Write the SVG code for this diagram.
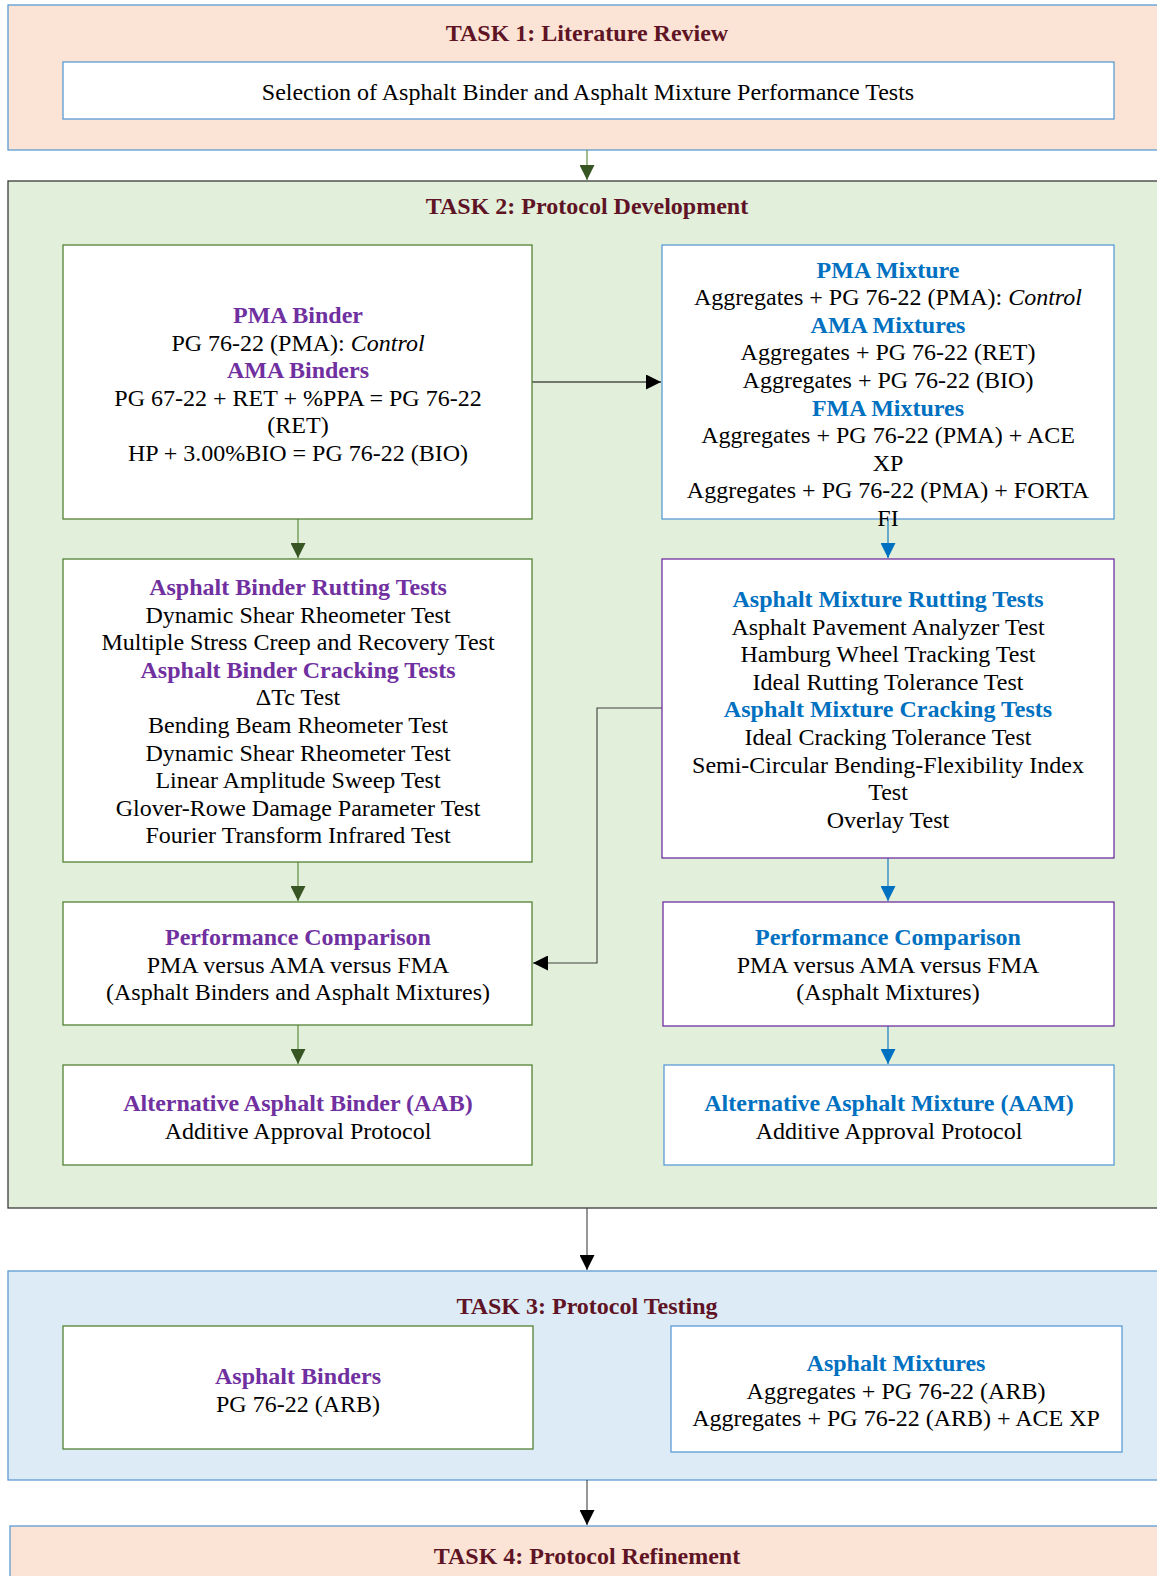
<svg xmlns="http://www.w3.org/2000/svg" width="1157" height="1576" viewBox="0 0 1157 1576">
<defs>
<style>
text{font-family:"Liberation Serif","Times New Roman",serif;font-size:24px;text-anchor:middle;fill:#000}
.t{font-weight:bold;fill:#5F1426}
.p{font-weight:bold;fill:#7030A0}
.b{font-weight:bold;fill:#0070C0}
.box{fill:#fff;stroke-width:1.3}
.g{stroke:#548235}
.bl{stroke:#5B9BD5}
.pu{stroke:#7030A0}
.c{fill:none;stroke-width:1.1}
</style>
<marker id="ag" markerUnits="userSpaceOnUse" markerWidth="15" markerHeight="15" viewBox="0 0 10 10" refX="10" refY="5" orient="auto"><path d="M0,0L10,5L0,10z" fill="#375623"/></marker>
<marker id="ab" markerUnits="userSpaceOnUse" markerWidth="15" markerHeight="15" viewBox="0 0 10 10" refX="10" refY="5" orient="auto"><path d="M0,0L10,5L0,10z" fill="#0070C0"/></marker>
<marker id="ak" markerUnits="userSpaceOnUse" markerWidth="15" markerHeight="15" viewBox="0 0 10 10" refX="10" refY="5" orient="auto"><path d="M0,0L10,5L0,10z" fill="#000"/></marker>
</defs>

<g id="task1">
<rect x="8" y="5" width="1170" height="145" fill="#FBE4D5" stroke="#5B9BD5" stroke-width="1.3"/>
<text class="t" x="587" y="41">TASK 1: Literature Review</text>
</g>
<g id="selection">
<rect class="box bl" x="63" y="62" width="1051" height="57"/>
<text x="588" y="100">Selection of Asphalt Binder and Asphalt Mixture Performance Tests</text>
</g>

<g id="task2">
<rect x="8" y="181" width="1170" height="1027" fill="#E2EFDA" stroke="#3A3A3A" stroke-width="1.3"/>
<text class="t" x="587" y="214">TASK 2: Protocol Development</text>
</g>

<g id="task3">
<rect x="8" y="1271" width="1170" height="209" fill="#DDEBF7" stroke="#5B9BD5" stroke-width="1.3"/>
<text class="t" x="587" y="1314">TASK 3: Protocol Testing</text>
</g>

<g id="task4">
<rect x="10" y="1526" width="1170" height="80" fill="#FBE4D5" stroke="#5B9BD5" stroke-width="1.3"/>
<text class="t" x="587" y="1564">TASK 4: Protocol Refinement</text>
</g>

<g id="connectors">
<path class="c" d="M587,150V180" stroke="#548235" marker-end="url(#ag)"/>
<path class="c" d="M532,382H661" stroke="#000" marker-end="url(#ak)"/>
<path class="c" d="M298,519V558" stroke="#548235" marker-end="url(#ag)"/>
<path class="c" d="M888,519V558" stroke="#0070C0" marker-end="url(#ab)"/>
<path class="c" d="M662,708H597V963H533" stroke="#404040" marker-end="url(#ak)"/>
<path class="c" d="M298,862V901" stroke="#548235" marker-end="url(#ag)"/>
<path class="c" d="M888,858V901" stroke="#0070C0" marker-end="url(#ab)"/>
<path class="c" d="M298,1025V1064" stroke="#548235" marker-end="url(#ag)"/>
<path class="c" d="M888,1026V1064" stroke="#0070C0" marker-end="url(#ab)"/>
<path class="c" d="M587,1208V1270" stroke="#404040" marker-end="url(#ak)"/>
<path class="c" d="M587,1480V1525" stroke="#404040" marker-end="url(#ak)"/>
</g>

<g id="pma-binder">
<rect class="box g" x="63" y="245" width="469" height="274"/>
<text class="p" x="298" y="323">PMA Binder</text>
<text x="298" y="350.6">PG 76-22 (PMA): <tspan font-style="italic">Control</tspan></text>
<text class="p" x="298" y="378.2">AMA Binders</text>
<text x="298" y="405.8">PG 67-22 + RET + %PPA = PG 76-22</text>
<text x="298" y="433.4">(RET)</text>
<text x="298" y="461">HP + 3.00%BIO = PG 76-22 (BIO)</text>
</g>

<g id="pma-mixture">
<rect class="box bl" x="662" y="245" width="452" height="274"/>
<text class="b" x="888" y="277.5">PMA Mixture</text>
<text x="888" y="305.1">Aggregates + PG 76-22 (PMA): <tspan font-style="italic">Control</tspan></text>
<text class="b" x="888" y="332.7">AMA Mixtures</text>
<text x="888" y="360.3">Aggregates + PG 76-22 (RET)</text>
<text x="888" y="387.9">Aggregates + PG 76-22 (BIO)</text>
<text class="b" x="888" y="415.5">FMA Mixtures</text>
<text x="888" y="443.1">Aggregates + PG 76-22 (PMA) + ACE</text>
<text x="888" y="470.7">XP</text>
<text x="888" y="498.3">Aggregates + PG 76-22 (PMA) + FORTA</text>
<text x="888" y="525.9">FI</text>
</g>

<g id="binder-tests">
<rect class="box g" x="63" y="559" width="469" height="303"/>
<text class="p" x="298" y="595">Asphalt Binder Rutting Tests</text>
<text x="298" y="622.6">Dynamic Shear Rheometer Test</text>
<text x="298" y="650.2">Multiple Stress Creep and Recovery Test</text>
<text class="p" x="298" y="677.8">Asphalt Binder Cracking Tests</text>
<text x="298" y="705.4">ΔTc Test</text>
<text x="298" y="733">Bending Beam Rheometer Test</text>
<text x="298" y="760.6">Dynamic Shear Rheometer Test</text>
<text x="298" y="788.2">Linear Amplitude Sweep Test</text>
<text x="298" y="815.8">Glover-Rowe Damage Parameter Test</text>
<text x="298" y="843.4">Fourier Transform Infrared Test</text>
</g>

<g id="mixture-tests">
<rect class="box pu" x="662" y="559" width="452" height="299"/>
<text class="b" x="888" y="607">Asphalt Mixture Rutting Tests</text>
<text x="888" y="634.6">Asphalt Pavement Analyzer Test</text>
<text x="888" y="662.2">Hamburg Wheel Tracking Test</text>
<text x="888" y="689.8">Ideal Rutting Tolerance Test</text>
<text class="b" x="888" y="717.4">Asphalt Mixture Cracking Tests</text>
<text x="888" y="745">Ideal Cracking Tolerance Test</text>
<text x="888" y="772.6">Semi-Circular Bending-Flexibility Index</text>
<text x="888" y="800.2">Test</text>
<text x="888" y="827.8">Overlay Test</text>
</g>

<g id="perf-binder">
<rect class="box g" x="63" y="902" width="469" height="123"/>
<text class="p" x="298" y="945">Performance Comparison</text>
<text x="298" y="972.6">PMA versus AMA versus FMA</text>
<text x="298" y="1000.2">(Asphalt Binders and Asphalt Mixtures)</text>
</g>

<g id="perf-mixture">
<rect class="box pu" x="663" y="902" width="451" height="124"/>
<text class="b" x="888" y="945">Performance Comparison</text>
<text x="888" y="972.6">PMA versus AMA versus FMA</text>
<text x="888" y="1000.2">(Asphalt Mixtures)</text>
</g>

<g id="aab">
<rect class="box g" x="63" y="1065" width="469" height="100"/>
<text class="p" x="298" y="1111">Alternative Asphalt Binder (AAB)</text>
<text x="298" y="1138.6">Additive Approval Protocol</text>
</g>

<g id="aam">
<rect class="box bl" x="664" y="1065" width="450" height="100"/>
<text class="b" x="889" y="1111">Alternative Asphalt Mixture (AAM)</text>
<text x="889" y="1138.6">Additive Approval Protocol</text>
</g>

<g id="asphalt-binders">
<rect class="box g" x="63" y="1326" width="470" height="123"/>
<text class="p" x="298" y="1384">Asphalt Binders</text>
<text x="298" y="1411.6">PG 76-22 (ARB)</text>
</g>

<g id="asphalt-mixtures">
<rect class="box bl" x="671" y="1326" width="451" height="126"/>
<text class="b" x="896" y="1371">Asphalt Mixtures</text>
<text x="896" y="1398.6">Aggregates + PG 76-22 (ARB)</text>
<text x="896" y="1426.2">Aggregates + PG 76-22 (ARB) + ACE XP</text>
</g>
</svg>
